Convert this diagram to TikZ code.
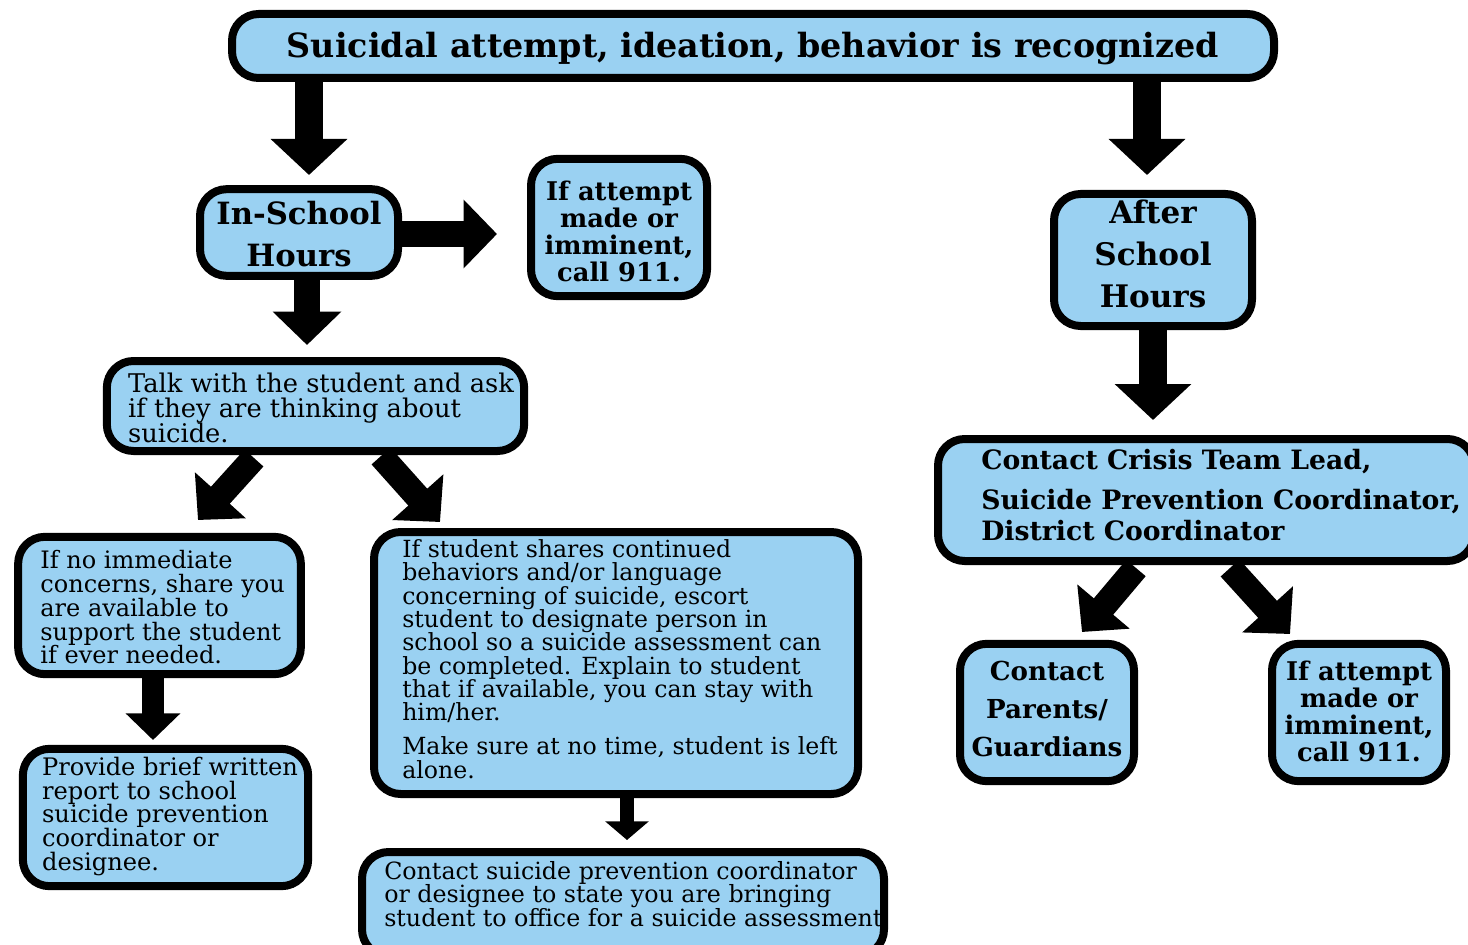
\documentclass[tikz,border=0pt]{standalone}
\usepackage{fontspec}
\setmainfont{DejaVu Serif}
\usetikzlibrary{arrows.meta}
\definecolor{boxblue}{RGB}{154,209,242}
\newcommand{\fs}[2]{\fontsize{#1}{#2}\selectfont\lineskiplimit=-30pt\lineskip=0pt}
\tikzset{
  box/.style={draw=black, line width=6pt, fill=boxblue, rounded corners=20pt, inner sep=0pt, outer sep=0pt},
  ltxt/.style={anchor=west, align=left, inner sep=0pt},
  ctxt/.style={anchor=center, align=center, inner sep=0pt},
  bigarrow/.style={line width=21pt, -{Triangle[width=56pt,length=27pt]}},
  midarrow/.style={line width=19pt, -{Triangle[width=50pt,length=25pt]}},
  smallarrow/.style={line width=11pt, -{Triangle[width=32pt,length=14pt]}}
}
\begin{document}
\begin{tikzpicture}[x=0.75pt,y=-0.75pt]
\clip (0,0) rectangle (1468,945);
\fill[white] (0,0) rectangle (1468,945);

% boxes
\node[box, minimum width=781.5pt, minimum height=48pt] (top) at (753,46) {};
\node[box, minimum width=148.5pt, minimum height=65pt] (ins) at (299,232.5) {};
\node[box, minimum width=132pt, minimum height=103pt] (att1) at (619,227.5) {};
\node[box, minimum width=313pt, minimum height=67.5pt] (talk) at (315.5,406) {};
\node[box, minimum width=212pt, minimum height=103pt] (noimm) at (159.5,605.5) {};
\node[box, minimum width=214pt, minimum height=103pt] (prov) at (165.5,817.5) {};
\node[box, minimum width=363pt, minimum height=196.5pt] (shares) at (616,663) {};
\node[box, minimum width=391.5pt, minimum height=78pt] (contact) at (623,904) {};
\node[box, minimum width=148.5pt, minimum height=99pt] (after) at (1153,260) {};
\node[box, minimum width=402pt, minimum height=91.5pt] (crisis) at (1206,500) {};
\node[box, minimum width=130.5pt, minimum height=103pt] (parents) at (1047,712.5) {};
\node[box, minimum width=130.5pt, minimum height=103pt] (att2) at (1359,712.5) {};

% texts
\node[ctxt, font={\bfseries\fs{25}{30}}] (top-t) at ([shift={(0,3)}]top.center)
  {Suicidal attempt, ideation, behavior is recognized};
\node[ctxt, font={\bfseries\fs{23}{31.5}}] (ins-t) at ([shift={(0,2)}]ins.center)
  {In-School\\Hours};
\node[ctxt, font={\bfseries\fs{19.3}{20.2}}] (att1-t) at ([shift={(0,4)}]att1.center)
  {If attempt\\made or\\imminent,\\call 911.};
\node[ltxt, font={\fs{19.3}{18.75}}] (talk-t) at ([shift={(21,2)}]talk.west)
  {Talk with the student and ask\\if they are thinking about\\suicide.};
\node[ltxt, font={\fs{18}{17.8}}] (noimm-t) at ([shift={(22,2)}]noimm.west)
  {If no immediate\\concerns, share you\\are available to\\support the student\\if ever needed.};
\node[ltxt, font={\fs{18.1}{17.8}}] (prov-t) at ([shift={(19,-1)}]prov.west)
  {Provide brief written\\report to school\\suicide prevention\\coordinator or\\designee.};
\node[ltxt, font={\fs{17.7}{17.5}}] (shares-t) at ([shift={(28,-4)}]shares.west)
  {If student shares continued\\behaviors and/or language\\concerning of suicide, escort\\student to designate person in\\school so a suicide assessment can\\be completed. Explain to student\\that if available, you can stay with\\him/her.\\[8pt]Make sure at no time, student is left\\alone.};
\node[ltxt, font={\fs{17.8}{17.6}}] (contact-t) at ([shift={(22,-10)}]contact.west)
  {Contact suicide prevention coordinator\\or designee to state you are bringing\\student to office for a suicide assessment};
\node[ctxt, font={\bfseries\fs{23.3}{31.5}}] (after-t) at ([shift={(0,-6)}]after.center)
  {After\\School\\Hours};
\node[ltxt, font={\bfseries\fs{20}{23}}] (crisis-t) at ([shift={(43,-5)}]crisis.west)
  {Contact Crisis Team Lead,\\[7pt]Suicide Prevention Coordinator,\\District Coordinator};
\node[ctxt, font={\bfseries\fs{19.6}{28.5}}] (parents-t) at ([shift={(0,-4)}]parents.center)
  {Contact\\Parents/\\Guardians};
\node[ctxt, font={\bfseries\fs{19.3}{20.2}}] (att2-t) at ([shift={(0,-1)}]att2.center)
  {If attempt\\made or\\imminent,\\call 911.};

% connectors
\coordinate (t1) at (309,175);
\coordinate (t2) at (1147,175);
\draw[bigarrow] ([yshift=3pt]top.south -| t1) -- (t1);
\draw[bigarrow] ([yshift=3pt]top.south -| t2) -- (t2);
\coordinate (r1) at (497,234);
\draw[midarrow] ([xshift=-3pt]ins.east |- r1) -- (r1);
\coordinate (d1) at (307,345);
\draw[midarrow] ([yshift=3pt]ins.south -| d1) -- (d1);
\coordinate (d2) at (1153,420);
\draw[bigarrow] ([yshift=3pt]after.south -| d2) -- (d2);
\coordinate (s1) at (254,458);
\coordinate (e1) at (198,520);
\draw[midarrow] (s1) -- (e1);
\coordinate (s2) at (381,456);
\coordinate (e2) at (440,522);
\draw[midarrow] (s2) -- (e2);
\coordinate (d3) at (153,740);
\draw[line width=16pt, -{Triangle[width=40pt,length=20pt]}] ([yshift=3pt]noimm.south -| d3) -- (d3);
\coordinate (d4) at (627,840);
\draw[smallarrow] ([yshift=3pt]shares.south -| d4) -- (d4);
\coordinate (s3) at (1136,568);
\coordinate (e3) at (1082,632);
\draw[midarrow] (s3) -- (e3);
\coordinate (s4) at (1230,568);
\coordinate (e4) at (1290,634);
\draw[midarrow] (s4) -- (e4);
\end{tikzpicture}
\end{document}
